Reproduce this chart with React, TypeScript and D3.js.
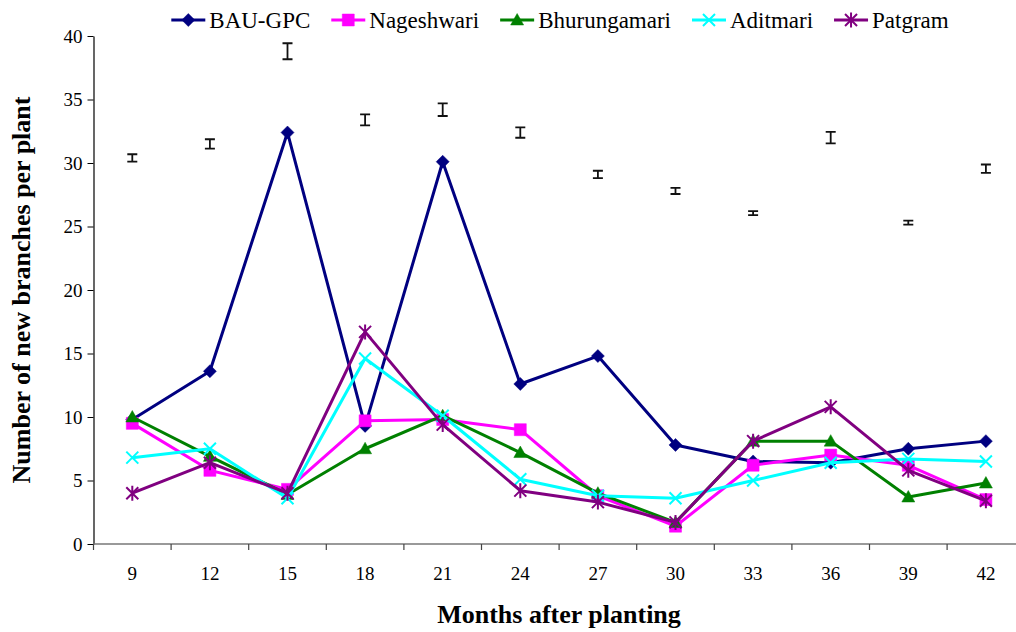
import { useEffect, useRef } from "react";
import * as d3 from "d3";

const months = ["9", "12", "15", "18", "21", "24", "27", "30", "33", "36", "39", "42"];
const bauGpc = [9.8, 13.6, 32.4, 9.3, 30.1, 12.6, 14.8, 7.8, 6.5, 6.4, 7.5, 8.1];
const nageshwari = [9.5, 5.8, 4.3, 9.7, 9.8, 9.0, 3.8, 1.4, 6.2, 7.0, 6.2, 3.5];
const bhurungamari = [10.0, 6.9, 3.9, 7.5, 10.1, 7.2, 4.0, 1.7, 8.1, 8.1, 3.7, 4.8];
const aditmari = [6.8, 7.5, 3.6, 14.6, 10.1, 5.1, 3.8, 3.6, 5.0, 6.4, 6.7, 6.5];
const patgram = [4.0, 6.4, 4.0, 16.7, 9.4, 4.2, 3.3, 1.7, 8.1, 10.8, 5.8, 3.4];
// floating error bars (centre, half length)
const errCenter = [30.4, 31.5, 38.8, 33.4, 34.2, 32.4, 29.1, 27.8, 26.05, 32.0, 25.3, 29.55];
const errHalf = [0.29, 0.37, 0.63, 0.43, 0.5, 0.41, 0.29, 0.24, 0.16, 0.45, 0.16, 0.33];
const yTicks = [0, 5, 10, 15, 20, 25, 30, 35, 40];

const seriesNames = ["BAU-GPC", "Nageshwari", "Bhurungamari", "Aditmari", "Patgram"];
const seriesData = [bauGpc, nageshwari, bhurungamari, aditmari, patgram];
const seriesColors = ["#000080", "#ff00ff", "#008000", "#00ffff", "#800080"];
const markerPaths: Record<string, string> = {
  diamond: "M0,-6.5L6.5,0L0,6.5L-6.5,0Z",
  square: "M-6,-6H6V6H-6Z",
  triangle: "M0,-6.5L6.5,5L-6.5,5Z",
  x: "M-6,-6L6,6M-6,6L6,-6",
  asterisk: "M-6,-6L6,6M-6,6L6,-6M0,-7.5L0,7.5",
};
const seriesMarkers = ["diamond", "square", "triangle", "x", "asterisk"];

const width = 1016;
const height = 632;
const font = "'Liberation Serif', 'Times New Roman', serif";

const App = () => {
  const ref = useRef<SVGSVGElement | null>(null);

  useEffect(() => {
    if (!ref.current) return;
    const svg = d3.select(ref.current);
    svg.selectAll("*").remove();

    const x = d3.scaleBand<string>().domain(months).range([93.5, 93.5 + 12 * 77.6]);
    const cx = (m: string) => (x(m) as number) + x.bandwidth() / 2;
    const y = d3.scaleLinear().domain([0, 40]).range([544, 36]);

    // y axis
    const yAxis = d3.axisLeft(y).tickValues(yTicks).tickSize(6).tickSizeOuter(0).tickPadding(5);
    svg.append("g")
      .attr("transform", "translate(93.5,0)")
      .call(yAxis)
      .call(g => g.select(".domain").attr("stroke", "#000").attr("stroke-width", 1.2))
      .call(g => g.selectAll(".tick line").attr("stroke", "#000"))
      .call(g => g.selectAll(".tick text")
        .attr("font-family", font).attr("font-size", 19).attr("fill", "#000").attr("dy", "0.34em"));

    // x axis (category ticks between the months)
    const xg = svg.append("g").attr("transform", "translate(0,544)");
    xg.append("line")
      .attr("x1", 93.5).attr("x2", width)
      .attr("stroke", "#777").attr("stroke-width", 1.5);
    xg.selectAll("line.tk")
      .data(months)
      .join("line")
      .attr("class", "tk")
      .attr("x1", d => x(d) as number).attr("x2", d => x(d) as number)
      .attr("y1", 0).attr("y2", 6)
      .attr("stroke", "#444").attr("stroke-width", 1.2);
    xg.selectAll("text")
      .data(months)
      .join("text")
      .attr("x", d => cx(d))
      .attr("y", 36)
      .attr("text-anchor", "middle")
      .attr("font-family", font)
      .attr("font-size", 19)
      .text(d => d);

    // axis titles
    svg.append("text")
      .attr("x", 559).attr("y", 623)
      .attr("text-anchor", "middle")
      .attr("font-family", font).attr("font-size", 26).attr("font-weight", "bold")
      .text("Months after planting");
    svg.append("text")
      .attr("transform", "translate(30,290) rotate(-90)")
      .attr("text-anchor", "middle")
      .attr("font-family", font).attr("font-size", 26).attr("font-weight", "bold")
      .text("Number of new branches per plant");

    // error bars
    const eb = svg.append("g").attr("stroke", "#111").attr("stroke-width", 1.8).attr("fill", "none");
    months.forEach((m, i) => {
      const top = y(errCenter[i] + errHalf[i]);
      const bot = y(errCenter[i] - errHalf[i]);
      const px = cx(m);
      eb.append("path").attr("d", `M${px - 5},${top}H${px + 5}M${px},${top}V${bot}M${px - 5},${bot}H${px + 5}`);
    });

    // series
    const line = d3.line<number>().x((_, i) => cx(months[i])).y(d => y(d));
    seriesData.forEach((vals, s) => {
      const color = seriesColors[s];
      const g = svg.append("g");
      g.append("path")
        .attr("d", line(vals))
        .attr("fill", "none")
        .attr("stroke", color)
        .attr("stroke-width", 3)
        .attr("stroke-linejoin", "round");
      const mk = seriesMarkers[s];
      const stroked = mk === "x" || mk === "asterisk";
      g.selectAll("path.mk")
        .data(vals)
        .join("path")
        .attr("class", "mk")
        .attr("transform", (d, i) => `translate(${cx(months[i])},${y(d)})`)
        .attr("d", markerPaths[mk])
        .attr("fill", stroked ? "none" : color)
        .attr("stroke", color)
        .attr("stroke-width", stroked ? 2 : 0.5);
    });

    // legend
    const lg = svg.append("g").attr("transform", "translate(0,20)");
    let pos = 0;
    seriesNames.forEach((name, s) => {
      const color = seriesColors[s];
      const it = lg.append("g").attr("transform", `translate(${pos},0)`);
      it.append("line").attr("x1", 0).attr("x2", 34).attr("stroke", color).attr("stroke-width", 3);
      const mk = seriesMarkers[s];
      const stroked = mk === "x" || mk === "asterisk";
      it.append("path")
        .attr("transform", "translate(17,0)")
        .attr("d", markerPaths[mk])
        .attr("fill", stroked ? "none" : color)
        .attr("stroke", color)
        .attr("stroke-width", stroked ? 2 : 0.5);
      const t = it.append("text")
        .attr("x", 38).attr("y", 8)
        .attr("font-family", font).attr("font-size", 23)
        .text(name);
      const w = (t.node() as SVGTextElement).getComputedTextLength();
      pos += 38 + w + 21;
    });
    const total = pos - 21;
    lg.attr("transform", `translate(${560 - total / 2},20)`);
  }, []);

  return (
    <div style={{ position: "absolute", left: 0, top: 0 }}>
      <svg ref={ref} width={width} height={height} style={{ display: "block", background: "#fff" }} />
    </div>
  );
};

export default App;
